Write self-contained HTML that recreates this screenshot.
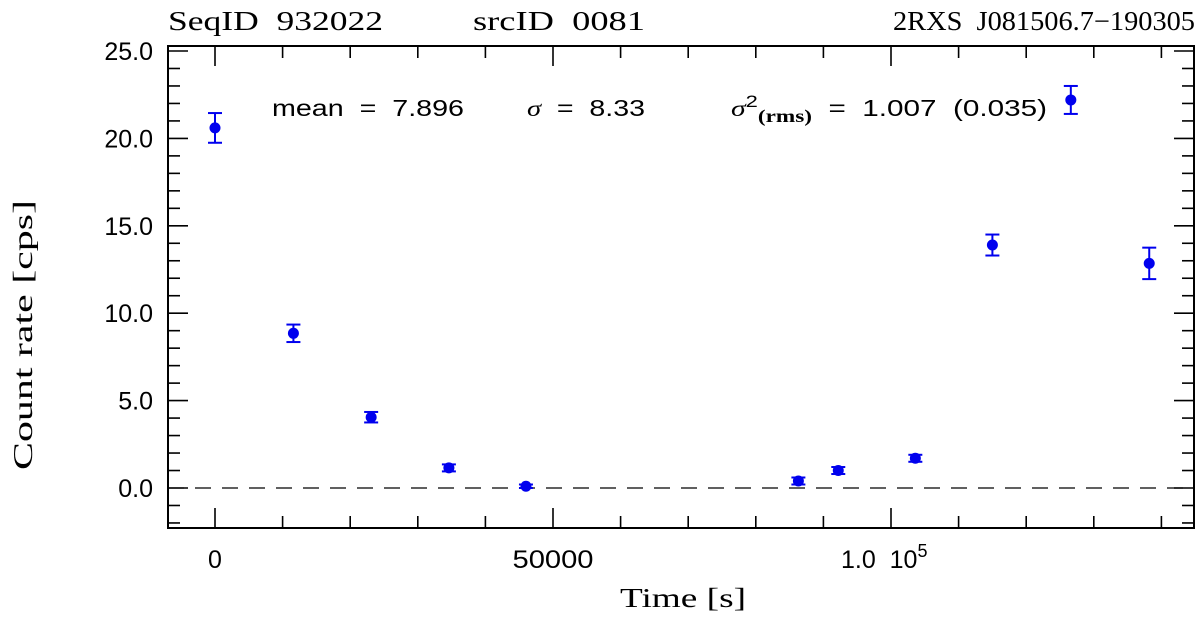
<!DOCTYPE html>
<html><head><meta charset="utf-8"><style>
html,body{margin:0;padding:0;background:#fff;width:1200px;height:617px;overflow:hidden}
text{font-family:"Liberation Serif",serif;fill:#000;white-space:pre}
.s{font-family:"Liberation Sans",sans-serif}
</style></head><body>
<svg id="chart" width="1200" height="617" xmlns="http://www.w3.org/2000/svg" xml:space="preserve">
<text x="168" y="30" font-size="27" textLength="215" lengthAdjust="spacingAndGlyphs">SeqID  932022</text>
<text x="473" y="30" font-size="27" textLength="172" lengthAdjust="spacingAndGlyphs">srcID  0081</text>
<text x="893" y="30" font-size="27" textLength="302" lengthAdjust="spacingAndGlyphs">2RXS  J081506.7−190305</text>
<text class="s" x="272" y="116" font-size="23" textLength="192" lengthAdjust="spacingAndGlyphs">mean  =  7.896</text>
<text class="s" x="527" y="116" font-size="23" textLength="118" lengthAdjust="spacingAndGlyphs"><tspan font-style="italic" font-family="Liberation Serif">σ</tspan>  =  8.33</text>
<text class="s" x="731" y="116" font-size="23" textLength="316" lengthAdjust="spacingAndGlyphs"><tspan font-style="italic" font-family="Liberation Serif">σ</tspan><tspan dy="-9" font-size="17">2</tspan><tspan dy="15" font-size="18" font-weight="bold" font-family="Liberation Serif">(rms)</tspan><tspan dy="-6">  =  1.007  (0.035)</tspan></text>
<g id="axes"></g>
<g id="marks"></g>
<text x="620" y="607" font-size="27" textLength="126" lengthAdjust="spacingAndGlyphs">Time [s]</text>
<text x="0" y="0" font-size="27" textLength="270" lengthAdjust="spacingAndGlyphs" transform="translate(32,470) rotate(-90)">Count rate [cps]</text>
</svg>
<script>
const times=[0,11600,23100,34600,46000,86300,92200,103600,115000,126600,138200];
const rates=[20.6,8.85,4.05,1.15,0.1,0.4,1.0,1.7,13.9,22.2,12.85];
const errors=[0.85,0.5,0.3,0.2,0.1,0.2,0.2,0.2,0.6,0.8,0.9];
const yTicks=[0,5,10,15,20,25];
const yTickLabels=["0.0","5.0","10.0","15.0","20.0","25.0"];
const xTicks=[0,50000,100000];
const xTickLabels=["0","50000","1.0  10"];
const L=168,R=1194,T=46,B=528;
const X0=215,XS=338/50000,Y0=488,YS=17.48;
const xs=v=>X0+v*XS, ys=v=>Y0-v*YS;
const NS="http://www.w3.org/2000/svg";
function mk(tag,attrs,parent){const e=document.createElementNS(NS,tag);for(const k in attrs)e.setAttribute(k,attrs[k]);parent.appendChild(e);return e;}
const ax=document.getElementById('axes'),mg=document.getElementById('marks');
const fr=mk('rect',{x:L,y:T,width:R-L,height:B-T,fill:'none',stroke:'#000','stroke-width':2},ax);


for(let v=-2;v<=25;v++){const y=ys(v);if(y<T||y>B)continue;const len=v%5===0?20:12;
 mk('line',{x1:L,x2:L+len,y1:y,y2:y,stroke:'#000','stroke-width':1.6},ax);
 mk('line',{x1:R,x2:R-len,y1:y,y2:y,stroke:'#000','stroke-width':1.6},ax);}
for(let v=-10000;v<=150000;v+=10000){const x=xs(v);if(x<L||x>R)continue;const len=v%50000===0?20:12;
 mk('line',{x1:x,x2:x,y1:B,y2:B-len,stroke:'#000','stroke-width':1.6},ax);
 mk('line',{x1:x,x2:x,y1:T,y2:T+len,stroke:'#000','stroke-width':1.6},ax);}
yTicks.forEach((v,i)=>{const t=mk('text',{x:153,y:ys(v)+9,'font-size':25,'text-anchor':'end',class:'s'},ax);t.textContent=yTickLabels[i];
 
 });
xTicks.forEach((v,i)=>{const t=mk('text',{x:xs(v),y:568,'font-size':25,'text-anchor':'middle',class:'s'},ax);t.textContent=xTickLabels[i];
 if(i===1){t.setAttribute('textLength','81');t.setAttribute('lengthAdjust','spacingAndGlyphs');}
 if(i===2){t.setAttribute('text-anchor','start');t.setAttribute('x',xs(v)-50);const s=mk('tspan',{dy:-11,'font-size':18},t);s.textContent='5';}
 
 });
const zl=mk('line',{x1:L,x2:R,y1:ys(0),y2:ys(0),stroke:'#000','stroke-width':1.3,'stroke-dasharray':'16,11'},ax);


times.forEach((t,i)=>{const x=xs(t),y=ys(rates[i]),e=errors[i]*YS;
 const g=mk('g',{},mg);
 
 
 mk('line',{x1:x,x2:x,y1:y-e,y2:y+e,stroke:'#0000ee','stroke-width':2},g);
 mk('line',{x1:x-7,x2:x+7,y1:y-e,y2:y-e,stroke:'#0000ee','stroke-width':2},g);
 mk('line',{x1:x-7,x2:x+7,y1:y+e,y2:y+e,stroke:'#0000ee','stroke-width':2},g);
 mk('circle',{cx:x,cy:y,r:5.5,fill:'#0000ee'},g);});
</script>
</body></html>
